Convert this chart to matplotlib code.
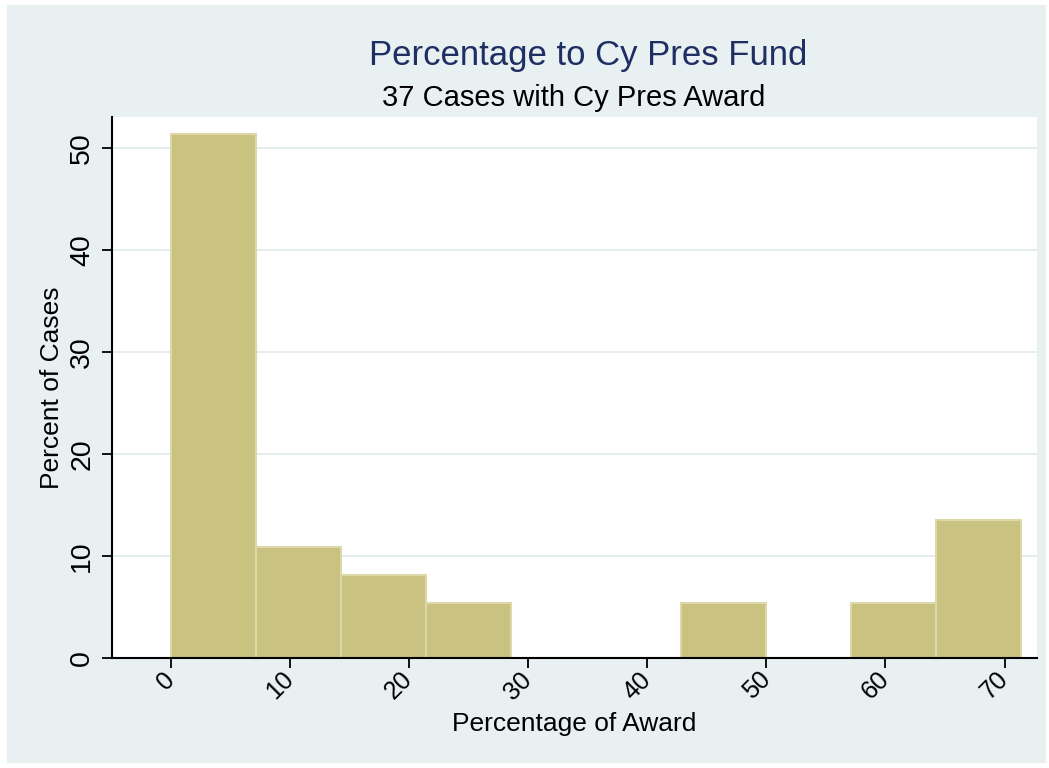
import matplotlib.pyplot as plt
import numpy as np
from matplotlib.patches import Rectangle

plt.rcParams['font.family'] = ['Liberation Sans', 'DejaVu Sans']

# 37 cases, percent of cases per bin (10 bins from 0 to max 71.36)
bin_width = 7.136
bin_left = np.arange(10) * bin_width
pct_cases = [51.35, 10.81, 8.11, 5.41, 0, 0, 5.41, 0, 5.41, 13.51]
x_ticks = [0, 10, 20, 30, 40, 50, 60, 70]
y_ticks = [0, 10, 20, 30, 40, 50]

bg = '#E8F0F2'
bar_col = '#CAC280'
edge_col = '#DDD8A8'

fig = plt.figure(figsize=(10.49, 7.68), dpi=100)
fig.patch.set_facecolor('white')
fig.patches.append(Rectangle((7 / 1049, 0.006), 1 - 10 / 1049, 1 - 5 / 768 - 0.006,
                             transform=fig.transFigure, facecolor=bg, edgecolor='none', zorder=-10))

ax = fig.add_axes([0.1068, 0.1436, 0.8815, 0.7037])
ax.set_facecolor('white')
ax.bar(bin_left, pct_cases, width=bin_width, align='edge', color=bar_col,
       edgecolor=edge_col, linewidth=1.5, zorder=3)

ax.set_xlim(-4.93, 72.7)
ax.set_ylim(0, 52.98)
ax.set_xticks(x_ticks)
ax.set_yticks(y_ticks)
ax.set_xticklabels([str(t) for t in x_ticks], rotation=45, ha='right', va='center',
                   rotation_mode='anchor', fontsize=18)
ax.set_yticklabels([str(t) for t in y_ticks], rotation=90, va='center', fontsize=20.5)
ax.tick_params(axis='both', direction='out', length=7, width=1.3, color='black')
ax.tick_params(axis='x', pad=6)
ax.tick_params(axis='y', pad=5)

for t in y_ticks[1:]:
    ax.axhline(t, color='#E3ECEE', linewidth=1.3, zorder=1)

for s in ['top', 'right']:
    ax.spines[s].set_visible(False)
for s in ['left', 'bottom']:
    ax.spines[s].set_linewidth(1.5)
    ax.spines[s].set_zorder(5)

ax.set_xlabel('Percentage of Award', fontsize=19, va='center')
ax.xaxis.set_label_coords(0.5, -0.1227)
ax.set_ylabel('Percent of Cases', fontsize=19, va='center')
ax.yaxis.set_label_coords(-0.065, 0.5)

fig.text(588 / 1049, 1 - 55 / 768, 'Percentage to Cy Pres Fund', fontsize=25,
         color='#1F2F64', ha='center', va='center')
fig.text(574 / 1049, 1 - 98 / 768, '37 Cases with Cy Pres Award', fontsize=21,
         color='black', ha='center', va='center')

fig.savefig('out.png', dpi=100, facecolor=fig.get_facecolor())
